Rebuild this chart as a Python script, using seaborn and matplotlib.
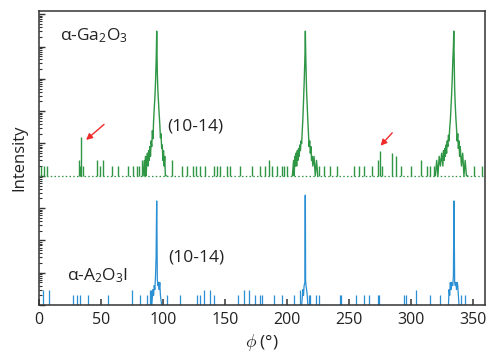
import numpy as np
import pandas as pd
import matplotlib
matplotlib.use("Agg")
import matplotlib.pyplot as plt
import matplotlib.ticker as mticker
import seaborn as sns

# ---- data (counts) ----
GREEN_OFFSET = 1e4   # alpha-Ga2O3 trace is shifted up by 4 decades
GREEN_FLOOR = 1

# alpha-Ga2O3 (10-14) peaks
g1_phi = [84.0, 85.0, 85.5, 86.0, 86.5, 87.0, 87.5, 88.0, 88.5, 89.0, 89.5, 90.0, 90.5, 91.0,
          91.5, 92.0, 92.5, 93.0, 93.5, 94.0, 94.5, 94.8, 95.0, 95.2, 95.5, 96.0, 96.5, 97.0,
          97.5, 98.0, 98.5, 99.0, 99.5, 100.0, 100.5, 101.0, 101.5, 102.0, 103.0]
g1_cnt = [1, 3, 1, 4, 1, 3, 5, 2, 6, 3, 8, 4, 12, 8, 25, 14, 50, 120, 250, 700, 3000, 9000,
          30000, 8000, 1500, 400, 180, 80, 40, 15, 20, 7, 9, 3, 6, 2, 4, 1, 1]
g2_phi = [204.5, 205.5, 206.0, 206.5, 207.0, 207.5, 208.0, 208.5, 209.0, 209.5, 210.0, 210.5,
          211.0, 211.5, 212.0, 212.5, 213.0, 213.5, 214.0, 214.5, 214.8, 215.0, 215.2, 215.5,
          216.0, 216.5, 217.0, 217.5, 218.0, 218.5, 219.0, 219.5, 220.0, 220.5, 221.0, 222.0,
          223.0, 224.0, 225.0]
g2_cnt = [1, 3, 1, 4, 2, 5, 2, 6, 3, 7, 4, 9, 6, 12, 10, 25, 60, 200, 700, 3000, 9000, 30000,
          9000, 2500, 400, 150, 50, 20, 8, 12, 5, 8, 3, 4, 2, 4, 1, 3, 1]
g3_phi = [320.0, 321.0, 322.0, 323.0, 324.0, 325.0, 326.0, 326.5, 327.0, 327.5, 328.0, 328.5,
          329.0, 329.5, 330.0, 330.5, 331.0, 331.5, 332.0, 332.5, 333.0, 333.5, 334.0, 334.5,
          334.8, 335.0, 335.2, 335.5, 336.0, 336.5, 337.0, 337.5, 338.0, 338.5, 339.0, 339.5,
          340.0, 341.0, 342.0, 343.0, 344.0, 345.0, 346.0]
g3_cnt = [1, 3, 1, 4, 2, 5, 2, 6, 3, 7, 4, 9, 5, 12, 8, 18, 12, 30, 50, 120, 300, 900, 3500,
          10000, 30000, 9000, 2500, 500, 150, 60, 30, 12, 20, 7, 12, 4, 8, 2, 5, 1, 3, 1, 1]

# alpha-Ga2O3 background spikes
g_noise_phi = [1.6, 4.0, 6.2, 31.9, 33.3, 34.2, 35.8, 46.6, 49.3, 52.0, 58.7, 64.0, 72.0,
               75.7, 79.0, 81.0, 83.0, 107.3, 115.4, 119.4, 124.7, 127.0, 130.2, 134.2, 140.9,
               143.5, 146.3, 151.7, 154.4, 162.5, 171.9, 178.7, 182.7, 185.4, 188.0, 192.1,
               196.2, 198.0, 200.2, 225.8, 229.9, 235.2, 240.7, 254.1, 258.2, 262.2, 268.9,
               273.5, 275.0, 277.0, 285.1, 287.8, 291.8, 299.9, 308.0, 313.4, 316.0, 318.8,
               351.1, 357.9]
g_noise_cnt = [2, 2, 2, 3, 2, 16, 2, 3, 2, 3, 2, 2, 2,
               2, 2, 2, 3, 3, 2, 2, 2, 2, 2, 2, 2,
               2, 2, 2, 2, 2, 2, 2, 2, 3, 2, 2,
               2, 2, 2, 2, 2, 2, 2, 2, 2, 2, 2,
               3, 6, 2, 5, 4, 2, 2, 3, 2, 2, 2,
               2, 2]

# alpha-A2O3I (10-14) peaks
b1_phi = [91.0, 92.0, 92.5, 93.0, 93.5, 94.0, 94.5, 94.8, 95.0, 95.2, 95.5, 96.0, 96.5, 97.0,
          97.5, 98.0, 99.0]
b1_cnt = [1, 3, 2, 4, 3, 7, 30, 400, 1660, 300, 6, 4, 5, 3, 5, 2, 1]
b2_phi = [212.0, 213.0, 213.5, 214.0, 214.6, 214.8, 215.0, 215.2, 215.5, 216.0, 216.5, 217.0]
b2_cnt = [1, 3, 2, 4, 5, 2500, 2500, 6, 4, 3, 2, 1]
b3_phi = [330.5, 331.0, 331.5, 332.0, 332.5, 333.0, 333.5, 334.0, 334.5, 334.8, 335.0, 335.2,
          335.5, 336.0, 336.5, 337.0, 337.5, 338.0, 338.5, 339.0]
b3_cnt = [1, 3, 2, 5, 3, 5, 4, 4, 8, 300, 1660, 200, 5, 4, 5, 3, 5, 4, 2, 1]

# alpha-A2O3I background spikes
b_noise_phi = [3.5, 8.3, 27.2, 31.0, 33.1, 39.9, 56.0, 75.4, 81.6, 87.0, 89.5, 90.5, 103.2,
               114.0, 127.5, 130.2, 133.4, 137.7, 140.9, 160.3, 165.2, 169.2, 174.6, 178.7,
               180.0, 189.4, 196.2, 206.1, 211.0, 217.7, 219.1, 223.9, 225.8, 242.8, 243.9,
               255.5, 262.7, 266.2, 273.5, 274.3, 294.5, 295.9, 304.5, 315.5, 323.4, 340.3,
               343.6]
b_noise_cnt = [3, 3, 2, 2, 2, 2, 2, 3, 2, 2, 3, 3, 2,
               2, 2, 2, 3, 3, 2, 2, 3, 3, 2, 2,
               2, 2, 2, 2, 3, 2, 2, 2, 2, 2, 2,
               2, 2, 2, 2, 2, 2, 2, 3, 2, 2, 2,
               2]

GREEN = "#2f9645"
BLUE = "#2b8fd4"
RED = "#ee2a2a"
DARK = "#333333"

sns.set_theme(style="ticks")
plt.rcParams['font.family'] = ['Open Sans', 'DejaVu Sans']
plt.rcParams['mathtext.fontset'] = 'custom'
plt.rcParams['mathtext.rm'] = 'Open Sans'
plt.rcParams['mathtext.it'] = 'Open Sans:italic'
plt.rcParams['mathtext.bf'] = 'Open Sans:bold'


def peaks_frame(peaks, scale):
    parts = []
    for name, phi, cnt in peaks:
        parts.append(pd.DataFrame({'phi': phi, 'intensity': np.array(cnt, float) * scale,
                                   'peak': name}))
    return pd.concat(parts, ignore_index=True)


green_df = peaks_frame([('g1', g1_phi, g1_cnt), ('g2', g2_phi, g2_cnt), ('g3', g3_phi, g3_cnt)],
                       GREEN_OFFSET)
blue_df = peaks_frame([('b1', b1_phi, b1_cnt), ('b2', b2_phi, b2_cnt), ('b3', b3_phi, b3_cnt)], 1.0)

fig, ax = plt.subplots(figsize=(4.9, 3.55), dpi=100)
fig.subplots_adjust(left=0.0796, right=0.9898, bottom=0.1408, top=0.969)
ax.set_yscale('log')

# green trace
ax.axhline(GREEN_FLOOR * GREEN_OFFSET, color=GREEN, lw=0.9, ls=(0, (1.2, 1.8)))
ax.vlines(g_noise_phi, GREEN_FLOOR * GREEN_OFFSET, np.array(g_noise_cnt) * GREEN_OFFSET,
          color=GREEN, lw=1.0)
sns.lineplot(data=green_df, x='phi', y='intensity', units='peak', estimator=None, sort=False,
             color=GREEN, lw=1.0, ax=ax, legend=False)

# blue trace
ax.vlines(b_noise_phi, 1, b_noise_cnt, color=BLUE, lw=0.9)
sns.lineplot(data=blue_df, x='phi', y='intensity', units='peak', estimator=None, sort=False,
             color=BLUE, lw=0.9, ax=ax, legend=False)

ax.set_xlim(0, 360)
ax.set_ylim(1, 10 ** 9.1)
ax.xaxis.set_major_locator(mticker.MultipleLocator(50))
ax.yaxis.set_major_locator(mticker.LogLocator(base=10, numticks=20))
ax.yaxis.set_minor_locator(mticker.LogLocator(base=10, subs=np.arange(2, 10), numticks=20))
ax.yaxis.set_major_formatter(mticker.NullFormatter())
ax.yaxis.set_minor_formatter(mticker.NullFormatter())
ax.tick_params(axis='x', which='major', direction='in', length=4, width=1.1, color=DARK,
               labelsize=11.5, labelcolor='#222222', pad=5)
ax.tick_params(axis='y', which='major', direction='in', length=4.5, width=1.0, color=DARK)
ax.tick_params(axis='y', which='minor', direction='in', length=2.3, width=0.8, color=DARK)
for s in ax.spines.values():
    s.set_color(DARK)
    s.set_linewidth(1.1)
    s.set_visible(True)

ax.set_xlabel('$\\phi$ (°)', fontsize=12.5, color='#222222', labelpad=3)
ax.set_ylabel('Intensity', fontsize=12, color='#222222', labelpad=5)

# labels
ax.text(17, 10 ** 8.33, 'α-Ga$_2$O$_3$', fontsize=12.5, va='center', color='#222222')
ax.text(103.5, 10 ** 5.51, '(10-14)', fontsize=12.5, va='center', color='#222222')
ax.text(104.3, 10 ** 1.46, '(10-14)', fontsize=12.5, va='center', color='#222222')
ax.text(22.6, 10 ** 0.9, 'α-A$_2$O$_3$I', fontsize=12.5, va='center', color='#222222')

# arrows to the weak reflections
arrow = dict(arrowstyle='-|>', color=RED, lw=1.0, mutation_scale=9, shrinkA=0, shrinkB=0)
ax.annotate('', xy=(38, 10 ** 5.11), xytext=(52.5, 10 ** 5.59), arrowprops=arrow)
ax.annotate('', xy=(275.7, 10 ** 4.93), xytext=(285.1, 10 ** 5.33), arrowprops=arrow)

fig.savefig('out.png', dpi=100)
